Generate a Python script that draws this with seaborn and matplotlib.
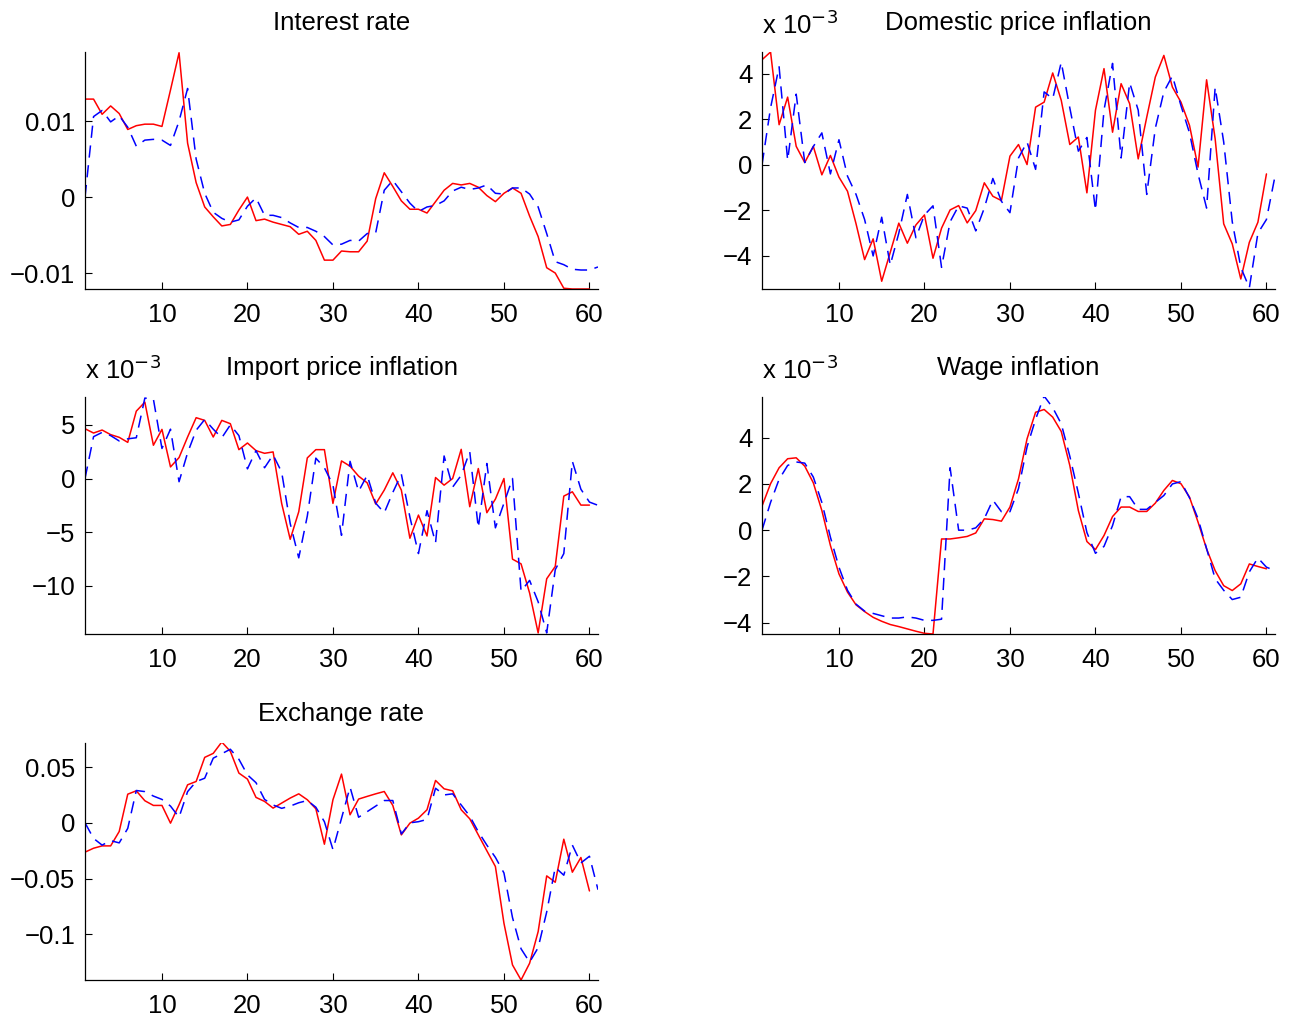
import numpy as np
import pandas as pd
import matplotlib
matplotlib.use("Agg")
import matplotlib.pyplot as plt
import seaborn as sns

# red = actual series (t = 1..60), blue dashed = one-step prediction (t = 1..61)
interest_red = [0.0129, 0.0129, 0.0109, 0.0120, 0.0110, 0.0089, 0.0094, 0.0096, 0.0096, 0.0093,
                0.0141, 0.0190, 0.0071, 0.0019, -0.0013, -0.0026, -0.0038, -0.0036, -0.0017, 0.0000,
                -0.0031, -0.0029, -0.0033, -0.0036, -0.0039, -0.0049, -0.0045, -0.0057, -0.0083, -0.0083,
                -0.0071, -0.0072, -0.0072, -0.0058, -0.0002, 0.0032, 0.0014, -0.0005, -0.0016, -0.0016,
                -0.0021, -0.0006, 0.0009, 0.0018, 0.0016, 0.0018, 0.0013, 0.0002, -0.0006, 0.0005,
                0.0012, 0.0005, -0.0025, -0.0052, -0.0093, -0.0100, -0.0120, -0.0121, -0.0121, -0.0121]
interest_blue = [0.0000, 0.0106, 0.0114, 0.0099, 0.0107, 0.0092, 0.0067, 0.0075, 0.0076, 0.0075,
                 0.0068, 0.0100, 0.0143, 0.0050, 0.0005, -0.0020, -0.0028, -0.0033, -0.0030, -0.0012,
                 -0.0001, -0.0024, -0.0024, -0.0027, -0.0034, -0.0040, -0.0040, -0.0045, -0.0052, -0.0063,
                 -0.0062, -0.0057, -0.0058, -0.0048, -0.0047, 0.0009, 0.0022, 0.0007, -0.0008, -0.0019,
                 -0.0013, -0.0011, -0.0005, 0.0008, 0.0013, 0.0010, 0.0012, 0.0016, 0.0005, 0.0004,
                 0.0012, 0.0012, 0.0004, -0.0013, -0.0048, -0.0085, -0.0089, -0.0095, -0.0096, -0.0096,
                 -0.0092]

# x 10^-3
domestic_red = [4.61, 4.95, 1.76, 2.97, 0.81, 0.10, 0.81, -0.44, 0.41, -0.54,
                -1.16, -2.59, -4.16, -3.25, -5.11, -3.84, -2.56, -3.44, -2.64, -2.20,
                -4.10, -2.78, -1.98, -1.79, -2.55, -2.01, -0.79, -1.38, -1.57, 0.38,
                0.89, 0.01, 2.53, 2.75, 4.03, 2.83, 0.89, 1.22, -1.23, 2.39,
                4.22, 1.43, 3.56, 2.68, 0.26, 2.09, 3.85, 4.80, 3.41, 2.75,
                1.73, -0.10, 3.73, 1.14, -2.59, -3.47, -5.01, -3.40, -2.52, -0.40]
domestic_blue = [0.0, 2.5, 4.3, 0.2, 3.1, 0.1, 0.8, 1.4, -0.4, 1.1,
                 -0.5, -1.3, -2.4, -4.0, -2.3, -4.4, -3.0, -1.3, -3.2, -2.2,
                 -1.8, -4.5, -2.5, -1.8, -1.9, -2.9, -1.9, -0.6, -1.6, -2.1,
                 0.3, 1.0, -0.2, 3.2, 2.9, 4.5, 2.5, 0.6, 1.2, -2.0,
                 2.4, 4.45, 0.3, 3.6, 2.4, -1.3, 1.6, 3.2, 3.9, 2.6,
                 1.4, -0.4, -1.9, 3.4, 1.0, -2.5, -4.5, -5.4, -3.0, -2.4,
                 -0.5]

import_red = [4.64, 4.24, 4.52, 4.09, 3.84, 3.37, 6.28, 7.12, 3.10, 4.58,
              1.08, 1.95, 3.87, 5.67, 5.42, 3.87, 5.42, 5.11, 2.69, 3.31,
              2.60, 2.35, 2.48, -2.32, -5.67, -3.10, 1.92, 2.69, 2.69, -2.32,
              1.64, 1.15, 0.22, -0.40, -2.38, -1.08, 0.53, -1.08, -5.57, -3.41,
              -5.36, 0.09, -0.62, 0.00, 2.72, -2.63, 0.93, -3.19, -1.92, 0.00,
              -7.52, -7.96, -10.68, -14.4, -9.35, -8.20, -1.64, -1.24, -2.48, -2.48]
import_blue = [0.0, 3.9, 4.3, 4.0, 3.5, 3.7, 3.8, 7.5, 7.4, 2.8,
               4.6, -0.3, 2.4, 4.5, 5.5, 4.6, 3.8, 5.0, 4.0, 0.9,
               2.6, 1.0, 2.2, 0.6, -4.2, -7.4, -3.5, 1.9, 1.0, -0.6,
               -5.3, 1.6, -1.2, 0.3, -2.3, -3.2, -1.3, 0.4, -3.6, -7.0,
               -3.0, -6.0, 2.1, -0.8, 0.3, 2.5, -4.6, 1.4, -4.6, -2.3,
               0.0, -10.5, -9.5, -11.5, -14.4, -8.5, -7.0, 1.6, -1.0, -2.2,
               -2.5]

wage_red = [1.04, 2.01, 2.70, 3.09, 3.13, 2.77, 2.05, 0.85, -0.66, -1.89,
            -2.68, -3.23, -3.52, -3.77, -3.94, -4.08, -4.17, -4.27, -4.37, -4.46,
            -4.49, -0.38, -0.38, -0.33, -0.27, -0.12, 0.49, 0.46, 0.39, 1.00,
            2.22, 3.95, 5.10, 5.22, 4.89, 4.27, 2.80, 0.85, -0.49, -0.84,
            -0.23, 0.59, 1.00, 1.00, 0.81, 0.81, 1.17, 1.72, 2.15, 2.01,
            1.43, 0.35, -0.81, -1.75, -2.40, -2.61, -2.32, -1.46, -1.57, -1.67]
wage_blue = [0.0, 1.2, 2.2, 2.8, 2.95, 2.9, 2.3, 1.2, -0.3, -1.6,
             -2.6, -3.2, -3.5, -3.6, -3.7, -3.8, -3.8, -3.75, -3.8, -3.9,
             -3.9, -3.85, 2.7, 0.0, 0.0, 0.1, 0.5, 1.3, 0.8, 0.8,
             1.8, 3.6, 4.8, 5.8, 5.3, 4.6, 3.2, 1.6, -0.1, -1.0,
             -0.7, 0.2, 1.45, 1.45, 0.9, 0.9, 1.2, 1.5, 2.0, 2.1,
             1.4, 0.5, -0.8, -2.1, -2.6, -3.0, -2.9, -1.8, -1.2, -1.6,
             -1.75]

exchange_red = [-0.0263, -0.0228, -0.0207, -0.0207, -0.0078, 0.0257, 0.0287, 0.0198, 0.0156, 0.0156,
                -0.0003, 0.0162, 0.0341, 0.0371, 0.0587, 0.0623, 0.0725, 0.0641, 0.0446, 0.0392,
                0.0228, 0.0192, 0.0132, 0.0177, 0.0222, 0.0260, 0.0207, 0.0126, -0.0192, 0.0207,
                0.0437, 0.0072, 0.0213, 0.0237, 0.0260, 0.0281, 0.0156, -0.0108, -0.0003, 0.0042,
                0.0117, 0.0380, 0.0305, 0.0287, 0.0117, 0.0036, -0.0108, -0.0251, -0.0392, -0.0901,
                -0.1275, -0.1410, -0.1260, -0.0976, -0.0476, -0.0533, -0.0147, -0.0443, -0.0311, -0.0611]
exchange_blue = [0.000, -0.014, -0.020, -0.016, -0.018, -0.005, 0.029, 0.028, 0.024, 0.021,
                 0.015, 0.005, 0.028, 0.037, 0.040, 0.058, 0.062, 0.066, 0.057, 0.043,
                 0.036, 0.021, 0.016, 0.013, 0.015, 0.018, 0.020, 0.014, 0.001, -0.024,
                 0.004, 0.032, 0.005, 0.010, 0.015, 0.020, 0.020, -0.010, 0.000, 0.001,
                 0.003, 0.031, 0.025, 0.026, 0.016, 0.006, -0.008, -0.020, -0.031, -0.045,
                 -0.085, -0.113, -0.125, -0.112, -0.080, -0.040, -0.047, -0.020, -0.036, -0.030,
                 -0.060]

titles = ["Interest rate", "Domestic price inflation", "Import price inflation",
          "Wage inflation", "Exchange rate"]
yticks = [[-0.01, 0, 0.01], [-4, -2, 0, 2, 4], [-10, -5, 0, 5],
          [-4, -2, 0, 2, 4], [-0.1, -0.05, 0, 0.05]]
ylims = [(-0.0121, 0.0191), (-5.45, 4.95), (-14.5, 7.6), (-4.49, 5.76), (-0.141, 0.0716)]
scaled = [False, True, True, True, False]
xticks = [10, 20, 30, 40, 50, 60]

sns.set_style("ticks")
plt.rcParams["font.family"] = ["Liberation Sans", "DejaVu Sans"]
plt.rcParams["xtick.direction"] = "in"
plt.rcParams["ytick.direction"] = "in"
plt.rcParams["axes.unicode_minus"] = True
plt.rcParams["text.color"] = "black"
plt.rcParams["xtick.labelcolor"] = "black"
plt.rcParams["ytick.labelcolor"] = "black"

FS = 18.5

fig = plt.figure(figsize=(13.01, 10.21), dpi=100)
W, H = 1301.0, 1021.0
boxes = [(85, 52), (762, 52), (85, 397), (762, 397), (85, 743)]
pw, ph = 513, 237

pairs = [(interest_red, interest_blue), (domestic_red, domestic_blue),
         (import_red, import_blue), (wage_red, wage_blue), (exchange_red, exchange_blue)]

for i, (red, blue) in enumerate(pairs):
    lx, ty = boxes[i]
    ax = fig.add_axes([lx / W, 1 - (ty + ph) / H, pw / W, ph / H])
    t_red = np.arange(1, len(red) + 1)
    t_blue = np.arange(1, len(blue) + 1)
    sns.lineplot(x=t_red, y=red, ax=ax, color="#ff0000", lw=1.1)
    sns.lineplot(x=t_blue, y=blue, ax=ax, color="#0000ff", lw=1.1)
    ax.lines[-1].set_dashes((8, 5))
    ax.set_xlim(1, 61)
    ax.set_ylim(*ylims[i])
    ax.set_xticks(xticks)
    ax.set_yticks(yticks[i])
    ax.set_yticklabels([f"{v:g}".replace("-", "\u2212") for v in yticks[i]])
    ax.tick_params(labelsize=FS, length=5, width=0.8, color="black")
    ax.tick_params(axis="x", pad=10)
    ax.tick_params(axis="y", pad=7)
    for s in ["top", "right"]:
        ax.spines[s].set_visible(False)
    for s in ["left", "bottom"]:
        ax.spines[s].set_color("black")
        ax.spines[s].set_linewidth(0.9)
    ax.set_title(titles[i], fontsize=FS, pad=16, color="black")
    if scaled[i]:
        ax.text(0.0, 1.055, r"x 10$^{-3}$", transform=ax.transAxes, fontsize=FS,
                ha="left", va="bottom", color="black")

fig.savefig("out.png", dpi=100)
